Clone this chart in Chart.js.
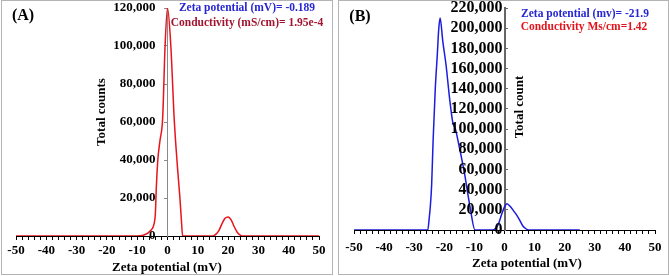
<!DOCTYPE html>
<html>
<head>
<meta charset="utf-8">
<script src="https://cdn.jsdelivr.net/npm/chart.js@4"></script>
<style>
  body { margin: 0; background: #fff; width: 669px; height: 276px; overflow: hidden; position: relative; font-family: 'Liberation Serif', serif; font-weight: bold; }
  canvas { position: absolute; top: 0; }
  .frame { position: absolute; top: 0; height: 275px; box-sizing: border-box; border: 1px solid #b4b4b4; }
  .txt { position: absolute; transform: translate(-50%, -50%); line-height: 1; white-space: nowrap; }
  .rot { transform: translate(-50%, -50%) rotate(-90deg); }
</style>
</head>
<body>
<canvas id="chartA" width="335" height="276" style="left:0"></canvas>
<canvas id="chartB" width="334" height="276" style="left:335px"></canvas>
<div class="frame" style="left:1px; width:332px"></div>
<div class="frame" style="left:338px; width:331px"></div>

<div class="txt" style="left:23px; top:15px; font-size:16px">(A)</div>
<div class="txt" style="left:247px; top:8px; font-size:11.5px; color:#2626d4">Zeta potential (mV)= -0.189</div>
<div class="txt" style="left:247px; top:22.5px; font-size:11.5px; color:#a3142f">Conductivity (mS/cm)= 1.95e-4</div>
<div class="txt rot" style="left:100px; top:112px; font-size:13px">Total counts</div>
<div class="txt" style="left:167px; top:266px; font-size:13px">Zeta potential (mV)</div>

<div class="txt" style="left:360px; top:16px; font-size:16px">(B)</div>
<div class="txt" style="left:585px; top:14px; font-size:11.5px; color:#2626d4">Zeta potential (mv)= -21.9</div>
<div class="txt" style="left:584px; top:27px; font-size:11.5px; color:#e3141c">Conductivity Ms/cm=1.42</div>
<div class="txt rot" style="left:518px; top:107px; font-size:13px">Total count</div>
<div class="txt" style="left:527px; top:262px; font-size:13px">Zeta potential (mV)</div>

<script>
// panel A (red)
const zetaA = [-50, -10, -8, -6.5, -5.5, -4.5, -4, -3.7, -3.2, -2.5, -1.6, -0.8, 0, 1.1, 2.2, 3.3, 4.1, 4.6, 5,
  10, 15, 16, 17, 18, 19, 20, 21, 22, 23, 24, 25, 50];
const countsA = [0, 0, 400, 1500, 3000, 6000, 12000, 25000, 40000, 50000, 62000, 100000, 120000, 100000, 62000, 36000, 20000, 8000, 0,
  0, 0, 1000, 3000, 6500, 9300, 10000, 8500, 5000, 2000, 500, 0, 0];

// panel B (blue)
const zetaB = [-50, -25.5, -25, -24.6, -24.2, -23.7, -23, -22.3, -21.9, -21.4, -20.5, -19.4, -18.3, -17.2, -16.3, -15, -13.4, -11.4, -9.8,
  -4, -3, -2, -1, 0, 0.8, 2, 3, 4, 5, 6, 7, 8, 25];
const countsB = [0, 0, 12000, 25000, 45000, 90000, 140000, 175000, 197000, 210000, 187000, 163000, 132000, 107000, 100000, 82000, 58000, 22000, 0,
  0, 1500, 6000, 15000, 23000, 26000, 23000, 19000, 15000, 10000, 4500, 1500, 0, 0];

const yTicksA = [0, 20000, 40000, 60000, 80000, 100000, 120000];
const yTicksB = [0, 20000, 40000, 60000, 80000, 100000, 120000, 140000, 160000, 180000, 200000, 220000];

const toPoints = (xs, ys) => xs.map((x, i) => ({ x: x, y: ys[i] }));
const fmt = v => v.toLocaleString('en-US');

function xScale(size, pad, height) {
  return {
    type: 'linear', min: -50, max: 50,
    afterFit: s => { s.height = height; },
    border: { color: '#000', width: 1 },
    grid: { drawOnChartArea: false, tickLength: 4, color: '#000' },
    ticks: {
      stepSize: 2, autoSkip: false, maxRotation: 0, padding: pad, color: '#000',
      font: { family: 'Liberation Serif', weight: 'bold', size: size },
      callback: v => v % 10 === 0 ? v : ''
    }
  };
}

// y axis line + tick marks at x = 0 (no labels)
function yLine(max, ticks, color, width, tl) {
  return {
    position: { x: 0 }, min: 0, max: max,
    afterBuildTicks: s => { s.ticks = ticks.map(v => ({ value: v })); },
    border: { color: color, width: width },
    grid: { drawOnChartArea: false, tickLength: tl, color: color },
    ticks: { padding: 0, callback: () => '', font: { size: 10, lineHeight: 1 } }
  };
}

// y tick labels, right-aligned at the given zeta value, drawn above the curve
function yLabels(max, ticks, at, size) {
  return {
    position: { x: at }, min: 0, max: max,
    afterBuildTicks: s => { s.ticks = ticks.map(v => ({ value: v })); },
    border: { display: false },
    grid: { display: false },
    ticks: { z: 1, padding: 0, color: '#000', font: { family: 'Liberation Serif', weight: 'bold', size: size, lineHeight: 1 }, callback: fmt }
  };
}

function lineSet(xs, ys, color) {
  return {
    data: toPoints(xs, ys),
    borderColor: color, borderWidth: 1.5,
    pointRadius: 0, fill: false,
    cubicInterpolationMode: 'monotone'
  };
}

new Chart(document.getElementById('chartA'), {
  type: 'line',
  data: { datasets: [lineSet(zetaA, countsA, '#e8141c')] },
  options: {
    responsive: false, animation: false,
    layout: { padding: { left: 16, right: 16, top: 8, bottom: 0 } },
    plugins: { legend: { display: false }, tooltip: { enabled: false } },
    scales: {
      x: xScale(13, 3, 40),
      y: yLine(120000, yTicksA, '#8a8a8a', 1, 3),
      yl: yLabels(120000, yTicksA, -4, 13)
    }
  }
});

new Chart(document.getElementById('chartB'), {
  type: 'line',
  data: { datasets: [lineSet(zetaB, countsB, '#1c1cdc')] },
  options: {
    responsive: false, animation: false,
    layout: { padding: { left: 19, right: 14, top: 8, bottom: 0 } },
    plugins: { legend: { display: false }, tooltip: { enabled: false } },
    scales: {
      x: xScale(13, 6, 46),
      y: yLine(220000, yTicksB, '#666', 2, -4),
      yl: yLabels(220000, yTicksB, -0.7, 16)
    }
  }
});
</script>
</body>
</html>
